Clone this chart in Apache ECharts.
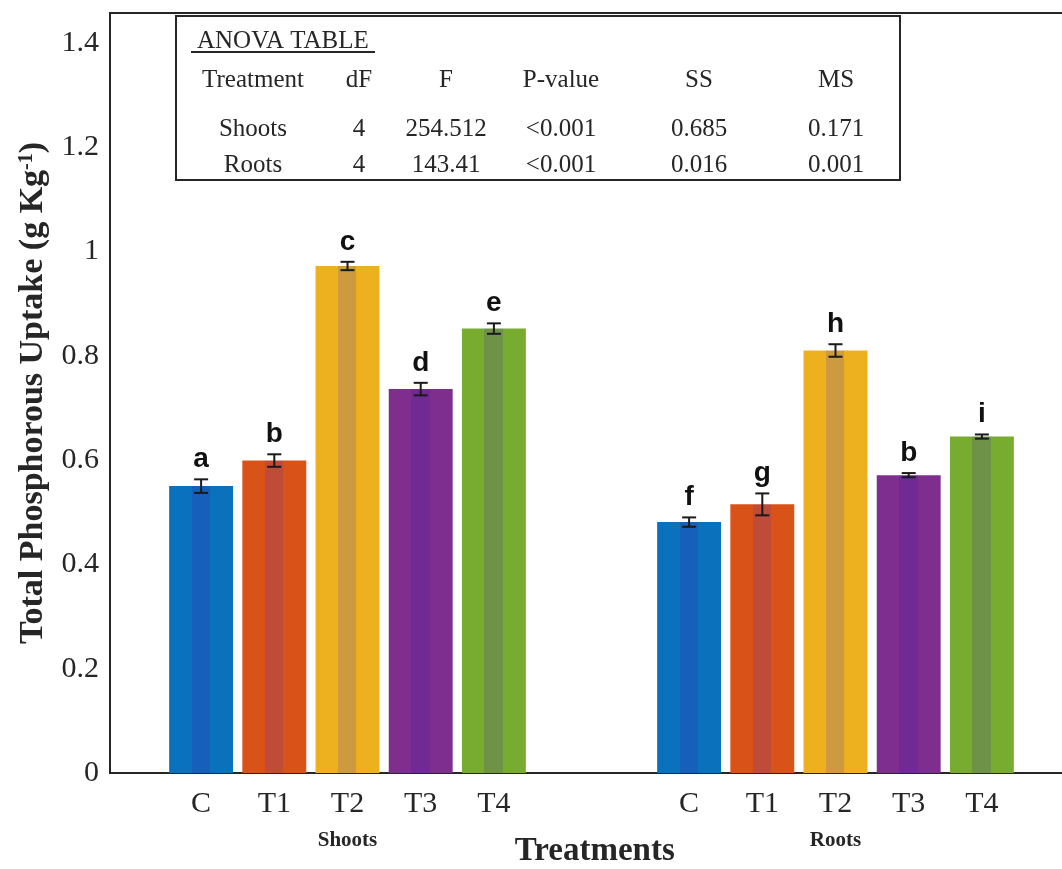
<!DOCTYPE html>
<html>
<head>
<meta charset="utf-8">
<script src="https://cdn.jsdelivr.net/npm/echarts@6/dist/echarts.min.js"></script>
<style>html,body{margin:0;padding:0;background:#fff;}#chart{width:1062px;height:869px;}</style>
</head>
<body>
<div id="chart"></div>
<script>
// ---- data ----
const categories = ['C', 'T1', 'T2', 'T3', 'T4'];
const groups = ['Shoots', 'Roots'];
const shootsValues = [0.550, 0.599, 0.972, 0.736, 0.852];
const shootsErrors = [0.013, 0.012, 0.008, 0.012, 0.010];
const shootsLetters = ['a', 'b', 'c', 'd', 'e'];
const rootsValues = [0.481, 0.515, 0.810, 0.571, 0.645];
const rootsErrors = [0.009, 0.021, 0.012, 0.004, 0.004];
const rootsLetters = ['f', 'g', 'h', 'b', 'i'];
const yTicks = [0, 0.2, 0.4, 0.6, 0.8, 1.0, 1.2, 1.4];
const yTitle = 'Total Phosphorous Uptake (g Kg';
const yTitleSup = '-1';
const xTitle = 'Treatments';
const anovaTitle = 'ANOVA TABLE';
const anovaHeaders = ['Treatment', 'dF', 'F', 'P-value', 'SS', 'MS'];
const anovaShoots = ['Shoots', '4', '254.512', '<0.001', '0.685', '0.171'];
const anovaRoots = ['Roots', '4', '143.41', '<0.001', '0.016', '0.001'];

// ---- styling ----
const baseColors = ['#0A72BC', '#D95319', '#EDB120', '#7E2F8E', '#77AC30'];
const stripeColors = ['#1660BC', '#BE4C38', '#CE9A40', '#712A93', '#6E9248'];
const SERIF = "'Liberation Serif', 'Times New Roman', serif";
const SANS = "'Liberation Sans', Arial, sans-serif";
const INK = '#262626';
const barStep = 0.15;      // spacing of bars within a group (axis units)
const barHalf = 0.0655;    // half bar width (axis units)

const groupValues = [shootsValues, rootsValues];
const groupErrors = [shootsErrors, rootsErrors];
const groupLetters = [shootsLetters, rootsLetters];

const seriesData = [];
const tickPos = [];
const tickText = [];
groups.forEach((g, gi) => {
  categories.forEach((c, ci) => {
    const x = (gi + 1) + (ci - 2) * barStep;
    seriesData.push([x, groupValues[gi][ci], groupErrors[gi][ci], ci, groupLetters[gi][ci]]);
    tickPos.push(x);
    tickText.push(c);
  });
});
const groupPos = groups.map((g, gi) => gi + 1);

function nearestLabel(v, pos, txt) {
  let best = 0, d = Infinity;
  pos.forEach((p, i) => { const dd = Math.abs(p - v); if (dd < d) { d = dd; best = i; } });
  return txt[best];
}

function renderItem(params, api) {
  const x = api.value(0), y = api.value(1), err = api.value(2), ci = api.value(3);
  const letter = seriesData[params.dataIndex][4];
  const p0 = api.coord([x - barHalf, 0]);
  const p1 = api.coord([x + barHalf, y]);
  const c = api.coord([x, y]);
  const lo = api.coord([x, y - err]);
  const hi = api.coord([x, y + err]);
  const cap = 7;
  const fill = new echarts.graphic.LinearGradient(0, 0, 1, 0, [
    { offset: 0, color: baseColors[ci] },
    { offset: 0.35, color: baseColors[ci] },
    { offset: 0.35, color: stripeColors[ci] },
    { offset: 0.64, color: stripeColors[ci] },
    { offset: 0.64, color: baseColors[ci] },
    { offset: 1, color: baseColors[ci] }
  ]);
  const ebStyle = { stroke: '#1a1a1a', lineWidth: 2 };
  return {
    type: 'group',
    children: [
      { type: 'rect', shape: { x: p0[0], y: p1[1], width: p1[0] - p0[0], height: p0[1] - p1[1] }, style: { fill: fill } },
      { type: 'line', shape: { x1: c[0], y1: lo[1], x2: c[0], y2: hi[1] }, style: ebStyle },
      { type: 'line', shape: { x1: c[0] - cap, y1: lo[1], x2: c[0] + cap, y2: lo[1] }, style: ebStyle },
      { type: 'line', shape: { x1: c[0] - cap, y1: hi[1], x2: c[0] + cap, y2: hi[1] }, style: ebStyle },
      { type: 'text', x: c[0], y: hi[1] - 6, style: { text: letter, fill: '#111', font: 'bold 28px ' + SANS, align: 'center', verticalAlign: 'bottom' } }
    ]
  };
}

// ANOVA table graphic
const colX = [253, 359, 446, 561, 699, 836];
const tableFont = '25px ' + SERIF;
const tableEls = [
  { type: 'rect', shape: { x: 176, y: 16, width: 724, height: 164 }, style: { fill: '#fff', stroke: INK, lineWidth: 2 }, z: 10 },
  { type: 'text', x: 197, y: 41, style: { text: anovaTitle, font: tableFont, fill: INK, verticalAlign: 'middle', align: 'left' }, z: 11 },
  { type: 'line', shape: { x1: 191, y1: 52, x2: 375, y2: 52 }, style: { stroke: INK, lineWidth: 2 }, z: 11 }
];
[[anovaHeaders, 80], [anovaShoots, 129], [anovaRoots, 165]].forEach(([row, yy]) => {
  row.forEach((t, i) => {
    tableEls.push({ type: 'text', x: colX[i], y: yy, style: { text: t, font: tableFont, fill: INK, align: 'center', verticalAlign: 'middle' }, z: 11 });
  });
});

const chart = echarts.init(document.getElementById('chart'), null, { renderer: 'canvas' });
chart.setOption({
  animation: false,
  backgroundColor: '#fff',
  grid: { left: 110, top: 13, right: -17.5, bottom: 96, show: true, borderColor: INK, borderWidth: 2, backgroundColor: 'transparent', containLabel: false, outerBoundsMode: 'none' },
  xAxis: [
    {
      type: 'value', min: 0.5133, max: 2.5,
      axisLine: { show: false }, axisTick: { show: false }, splitLine: { show: false },
      axisLabel: {
        customValues: tickPos,
        formatter: v => nearestLabel(v, tickPos, tickText),
        fontFamily: SERIF, fontSize: 30, color: INK, margin: 16
      },
      name: xTitle, nameLocation: 'middle', nameGap: 62,
      nameTextStyle: { fontFamily: SERIF, fontWeight: 'bold', fontSize: 33, color: INK }
    },
    {
      type: 'value', min: 0.5133, max: 2.5, position: 'bottom',
      axisLine: { show: false }, axisTick: { show: false }, splitLine: { show: false },
      axisLabel: {
        customValues: groupPos,
        formatter: v => nearestLabel(v, groupPos, groups),
        fontFamily: SERIF, fontSize: 21, fontWeight: 'bold', color: INK, margin: 57
      }
    }
  ],
  yAxis: {
    type: 'value', min: 0, max: 1.457,
    axisLine: { show: false }, axisTick: { show: false }, splitLine: { show: false },
    axisLabel: {
      customValues: yTicks,
      formatter: v => String(+(+v).toFixed(1)),
      fontFamily: SERIF, fontSize: 30, color: INK, margin: 11
    },
    name: yTitle + '{sup|' + yTitleSup + '})',
    nameLocation: 'middle', nameGap: 52, nameRotate: 90,
    nameTextStyle: {
      fontFamily: SERIF, fontWeight: 'bold', fontSize: 34, color: INK,
      rich: { sup: { fontFamily: SERIF, fontWeight: 'bold', fontSize: 20, color: INK, verticalAlign: 'top' } }
    }
  },
  series: [{
    type: 'custom',
    xAxisIndex: 0, yAxisIndex: 0,
    renderItem: renderItem,
    encode: { x: 0, y: 1 },
    data: seriesData.map(d => d.slice(0, 4)),
    z: 5
  }],
  graphic: { elements: tableEls }
});
</script>
</body>
</html>
